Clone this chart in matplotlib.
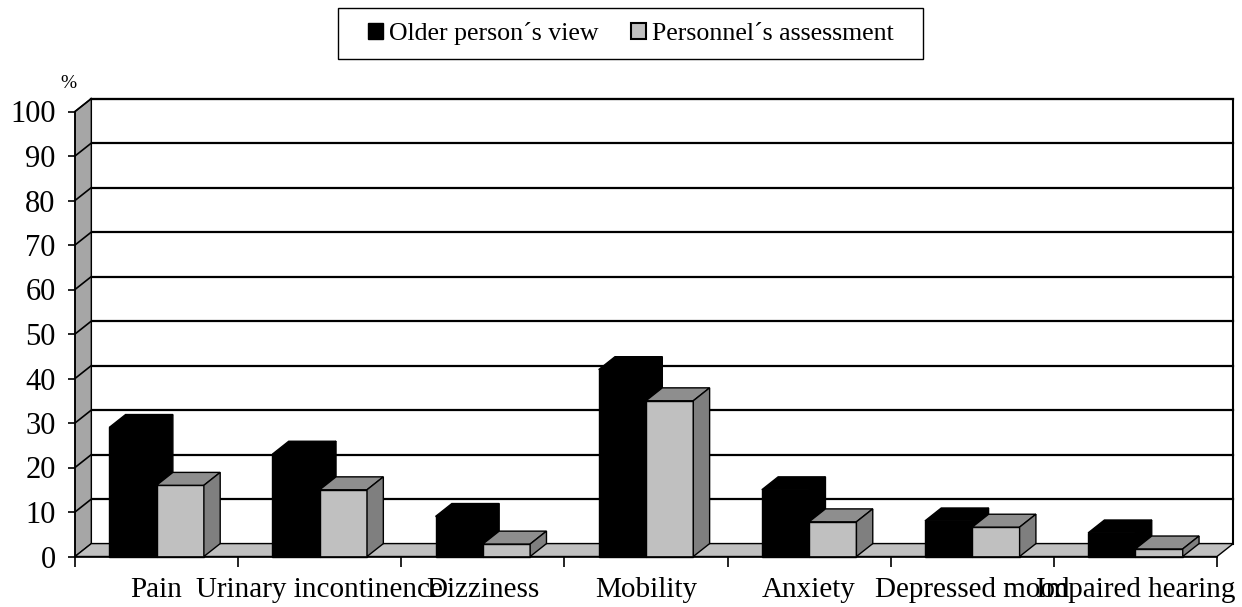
import matplotlib
matplotlib.use("Agg")
import matplotlib.pyplot as plt
from matplotlib.patches import Polygon, Patch, Rectangle

categories = ["Pain", "Urinary incontinence", "Dizziness", "Mobility",
              "Anxiety", "Depressed mood", "Impaired hearing"]
older_view = [29, 23, 9, 42, 15, 8, 5.3]
personnel = [16, 15, 2.8, 35, 7.8, 6.6, 1.7]
series_names = ["Older person\u00b4s view", "Personnel\u00b4s assessment"]
yticks = list(range(0, 101, 10))

plt.rcParams['font.family'] = ['Liberation Serif', 'DejaVu Serif']

W, H = 1242, 607
fig = plt.figure(figsize=(W / 100, H / 100), dpi=100)
ax = fig.add_axes([75 / W, (H - 556.5) / H, 1142 / W, 445 / H])
n = len(categories)
ax.set_xlim(0, n)
ax.set_ylim(0, 100)

# depth of the 3d effect in data units
DX, DY = 0.1, 2.9

def poly(pts, fc, z, lw=1.0, ec='black'):
    ax.add_patch(Polygon(pts, closed=True, facecolor=fc, edgecolor=ec,
                         linewidth=lw, zorder=z, clip_on=False))

# back wall, side wall, floor
poly([(DX, DY), (n + DX, DY), (n + DX, 100 + DY), (DX, 100 + DY)], 'white', 0, lw=1.5)
poly([(0, 0), (DX, DY), (DX, 100 + DY), (0, 100)], '#a6a6a6', 2)
poly([(0, 0), (n, 0), (n + DX, DY), (DX, DY)], '#c0c0c0', 2)

for v in yticks[1:]:
    ax.plot([DX, n + DX], [v + DY, v + DY], color='black', lw=1.6, zorder=1, clip_on=False)
    ax.plot([0, DX], [v, v + DY], color='black', lw=1.2, zorder=2.5, clip_on=False)

def bar3d(x0, x1, h, front, top, side, z):
    poly([(x0, 0), (x1, 0), (x1, h), (x0, h)], front, z)
    poly([(x0, h), (x1, h), (x1 + DX, h + DY), (x0 + DX, h + DY)], top, z)
    poly([(x1, 0), (x1 + DX, DY), (x1 + DX, h + DY), (x1, h)], side, z)

bw = 0.29
for i in range(n):
    c = i + 0.5
    bar3d(c - bw, c, older_view[i], 'black', 'black', 'black', 3 + i)
    bar3d(c, c + bw, personnel[i], '#c0c0c0', '#8e8e8e', '#7f7f7f', 3.5 + i)

# axes styling
for s in ['top', 'right']:
    ax.spines[s].set_visible(False)
for s in ['left', 'bottom']:
    ax.spines[s].set_linewidth(1.2)
    ax.spines[s].set_zorder(10)
ax.set_yticks(yticks)
ax.tick_params(axis='y', labelsize=22, length=5, width=1.2, pad=9)
ax.set_xticks(range(n + 1))
ax.set_xticklabels([])
ax.set_xticks([i + 0.5 for i in range(n)], minor=True)
ax.set_xticklabels(categories, minor=True)
ax.tick_params(axis='x', which='major', length=7, width=1.2)
ax.tick_params(axis='x', which='minor', length=0, labelsize=21, pad=15)

fig.text(68 / W, 1 - 84 / H, '%', ha='center', va='center', fontsize=14)

handles = [Patch(facecolor='black', edgecolor='black'),
           Patch(facecolor='#c0c0c0', edgecolor='black', linewidth=1.5)]
leg = fig.legend(handles, series_names, loc='center',
                 bbox_to_anchor=(630.5 / W, 1 - 33.5 / H), ncol=2, fontsize=18.6,
                 frameon=False, handlelength=0.6, handleheight=0.6,
                 handletextpad=0.22, columnspacing=1.25, borderpad=0.2)

# legend frame: wider padding left/right than top/bottom
fig.canvas.draw()
bb = leg.get_window_extent(fig.canvas.get_renderer())
padx = 24
fig.add_artist(Rectangle(((bb.x0 - padx) / W, (H - 59) / H),
                         (bb.width + 2 * padx) / W, 51 / H,
                         transform=fig.transFigure, facecolor='none',
                         edgecolor='black', linewidth=1.0))

fig.savefig('out.png', dpi=100, facecolor='white')
